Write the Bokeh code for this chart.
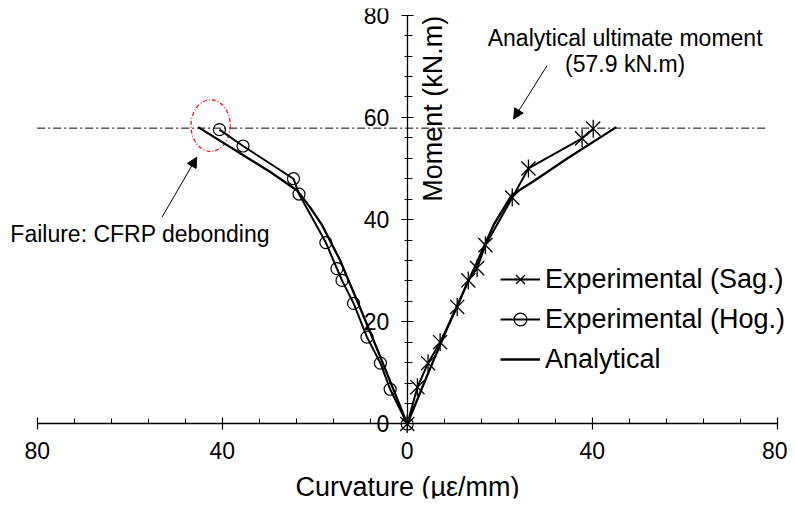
import numpy as np
from bokeh.plotting import figure
from bokeh.models import (Range1d, LinearAxis, FixedTicker, Legend, LegendItem,
                          Arrow, NormalHead)
from bokeh.core.properties import value
from bokeh.embed import file_html
from bokeh.resources import INLINE

# ---------------- data ----------------
sag_curv = [0, 2.2, 4.5, 7.1, 10.8, 13.2, 15.1, 16.9, 22.7, 26.2, 37.8, 40.2]
sag_moment = [0, 7.2, 11.9, 16.0, 22.9, 28.1, 30.5, 35.0, 44.3, 50.0, 55.9, 57.8]

hog_curv = [0, -3.7, -5.8, -8.7, -11.6, -14.1, -15.2, -17.6, -23.4, -24.6, -35.5, -40.6]
hog_moment = [0, 6.8, 11.9, 17.0, 23.6, 28.1, 30.4, 35.5, 45.0, 48.0, 54.4, 57.6]

ana_sag_curv = [0, 5.0, 10.0, 15.0, 18.7, 22.6, 27.3, 34.5, 45.2]
ana_sag_moment = [0, 11.0, 21.6, 31.5, 39.0, 44.8, 47.5, 51.9, 58.1]

ana_hog_curv = [0, -5.8, -10.0, -14.5, -18.4, -21.0, -23.8, -29.6, -45.2]
ana_hog_moment = [0, 13.1, 22.3, 32.0, 38.9, 42.4, 45.7, 49.3, 58.1]

ultimate_moment = 57.9
x_ticks = [-80, -40, 0, 40, 80]
x_tick_labels = {-80: "80", -40: "40", 0: "0", 40: "40", 80: "80"}
y_ticks = [0, 20, 40, 60, 80]

FONT = "Liberation Sans"

p = figure(width=787, height=506, output_backend="svg", toolbar_location=None,
           x_axis_type=None, y_axis_type=None, min_border=0,
           min_border_left=8, min_border_top=8, min_border_bottom=8,
           x_range=Range1d(-86.2, 82.2), y_range=Range1d(-14.58, 81.31))
p.outline_line_color = None
p.background_fill_color = "white"

# ---------------- axes (crossing at origin) ----------------
xaxis = LinearAxis(fixed_location=0,
                   ticker=FixedTicker(ticks=x_ticks, minor_ticks=list(range(-80, 81, 8))),
                   bounds=(-80, 80), major_label_overrides=x_tick_labels,
                   axis_label="Curvature (µε/mm)")
yaxis = LinearAxis(fixed_location=0,
                   ticker=FixedTicker(ticks=y_ticks, minor_ticks=list(range(0, 81, 4))),
                   bounds=(0, 80))
for ax in (xaxis, yaxis):
    ax.axis_line_color = "black"
    ax.axis_line_width = 1.3
    ax.major_tick_line_color = "black"
    ax.minor_tick_line_color = "black"
    ax.major_tick_line_width = 1.2
    ax.minor_tick_line_width = 1.0
    ax.major_tick_in = 6
    ax.major_tick_out = 6
    ax.major_label_text_font = FONT
    ax.major_label_text_font_size = "23px"
    ax.major_label_text_color = "black"
    ax.axis_label_text_font = FONT
    ax.axis_label_text_font_size = "27px"
    ax.axis_label_text_font_style = "normal"
    ax.axis_label_text_color = "black"
xaxis.minor_tick_in = 5
xaxis.minor_tick_out = 0
yaxis.minor_tick_in = 5
yaxis.minor_tick_out = 3
xaxis.major_label_standoff = 12
xaxis.axis_label_standoff = 10
yaxis.major_label_standoff = 12
p.add_layout(xaxis, "below")
p.add_layout(yaxis, "left")

# y-axis title on the right of the axis line
p.text(x=[5.5], y=[61.7], text=["Moment (kN.m)"], angle=np.pi / 2,
       text_font=value(FONT), text_font_size="27px", text_align="center",
       text_baseline="middle", text_color="black")

# ---------------- reference line & annotations ----------------
p.segment(x0=[-80], y0=[ultimate_moment], x1=[78], y1=[ultimate_moment],
          line_color="black", line_width=1, line_dash="8 3 2 3")

p.ellipse(x=[-42.5], y=[58.4], width=8.5, height=10.1, fill_color=None,
          line_color="red", line_width=1.2, line_dash="4 2 1 2")

p.text(x=[47.1, 47.1], y=[75.6, 70.4],
       text=["Analytical ultimate moment", "(57.9 kN.m)"],
       text_font=value(FONT), text_font_size="23px", text_align="center",
       text_baseline="middle", text_color="black")
p.text(x=[-85.8], y=[37.2], text=["Failure: CFRP debonding"],
       text_font=value(FONT), text_font_size="23px", text_align="left",
       text_baseline="middle", text_color="black")

p.add_layout(Arrow(end=NormalHead(size=10, fill_color="black", line_color="black"),
                   x_start=30.2, y_start=70.1, x_end=23.0, y_end=59.7,
                   line_color="black", line_width=1))
p.add_layout(Arrow(end=NormalHead(size=10, fill_color="black", line_color="black"),
                   x_start=-53.0, y_start=40.5, x_end=-45.5, y_end=52.2,
                   line_color="black", line_width=1))

# ---------------- series ----------------
ana_r = p.line(ana_sag_curv, ana_sag_moment, line_color="black", line_width=2.3)
ana_l = p.line(ana_hog_curv, ana_hog_moment, line_color="black", line_width=2.3)

sag_line = p.line(sag_curv, sag_moment, line_color="black", line_width=2)
sag_x = p.scatter(sag_curv, sag_moment, marker="x", size=20, line_color="black",
                  line_width=1.3)
sag_bar = p.scatter(sag_curv, sag_moment, marker="dash", angle=np.pi / 2, size=18,
                    line_color="black", line_width=1.3)

hog_line = p.line(hog_curv, hog_moment, line_color="black", line_width=2)
hog_c = p.scatter(hog_curv, hog_moment, marker="circle", size=12, fill_color=None,
                  line_color="black", line_width=1.2)

legend = Legend(items=[
    LegendItem(label="Experimental (Sag.)", renderers=[sag_line, sag_x, sag_bar]),
    LegendItem(label="Experimental (Hog.)", renderers=[hog_line, hog_c]),
    LegendItem(label="Analytical", renderers=[ana_r]),
], location=(492, 123))
legend.label_text_font = FONT
legend.label_text_font_size = "27px"
legend.label_text_color = "black"
legend.glyph_width = 40
legend.glyph_height = 32
legend.label_height = 32
legend.spacing = 8
legend.padding = 0
legend.margin = 0
legend.label_standoff = 5
legend.border_line_color = None
legend.background_fill_alpha = 0
p.add_layout(legend, "center")

open("out.html", "w").write(file_html(p, INLINE))
